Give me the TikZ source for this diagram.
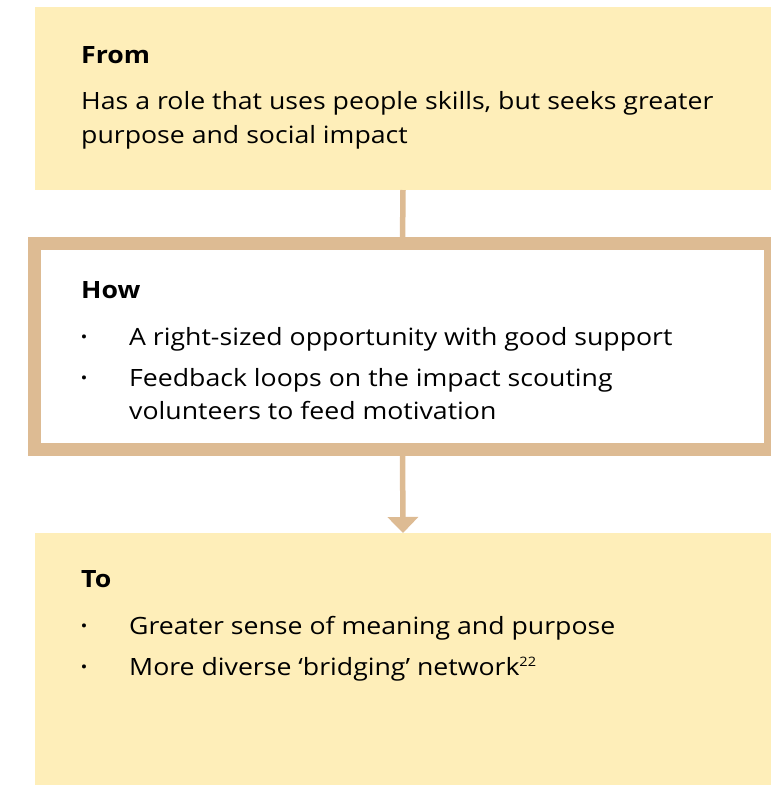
\documentclass[tikz,border=0pt]{standalone}
\usepackage{fontspec}
\setmainfont{Open Sans}[FakeStretch=1.12]
\usetikzlibrary{arrows.meta}
\definecolor{boxyellow}{HTML}{FEEEB9}
\definecolor{tan}{HTML}{DDBB93}
\newcommand{\fsz}{\fontsize{23.8}{28}\selectfont}
\newcommand{\supnum}[1]{\raisebox{8.5pt}{\fontsize{13}{13}\selectfont #1}}
\tikzset{
  panel/.style={fill=boxyellow, draw=none, anchor=north west, inner sep=0pt, outer sep=0pt},
  howpanel/.style={fill=white, draw=tan, line width=13pt, anchor=north west, inner sep=0pt, outer sep=0pt},
  txt/.style={anchor=base west, inner sep=0pt, font=\fsz},
  head/.style={txt, font=\fsz\bfseries},
  bul/.style={anchor=base, inner sep=0pt, font=\fontsize{30}{30}\selectfont},
  conn/.style={draw=tan, line width=5.5pt},
}
\begin{document}
\begin{tikzpicture}[x=1pt,y=-1pt]
\useasboundingbox (0,0) rectangle (771,785);
\clip (0,0) rectangle (771,785);
\node[panel, minimum width=736pt, minimum height=183pt] (from) at (35,7) {};
\node[howpanel, minimum width=736pt, minimum height=206.2pt] (how) at (34.5,243.3) {};
\node[panel, minimum width=736pt, minimum height=252pt] (to) at (35,533) {};
\draw[conn] (from.south) -- (how.north);
\draw[conn, -{Triangle[width=30pt,length=16pt]}] (how.south) -- (to.north);
% From
\node[head] (fromh) at (81,63) {From};
\node[txt] (from1) at (81,109) {Has a role that uses people skills, but seeks greater};
\node[txt] (from2) at (81,143) {purpose and social impact};
% How
\node[head] (howh) at (81,298) {How};
\node[bul] (hb1) at (84,347) {·};
\node[txt] (how1) at (129,345) {A right-sized opportunity with good support};
\node[bul] (hb2) at (84,388) {·};
\node[txt] (how2) at (129,386) {Feedback loops on the impact scouting};
\node[txt] (how3) at (129,419) {volunteers to feed motivation};
% To
\node[head] (toh) at (81,587) {To};
\node[bul] (tb1) at (84,636) {·};
\node[txt] (to1) at (129,634) {Greater sense of meaning and purpose};
\node[bul] (tb2) at (84,677) {·};
\node[txt] (to2) at (129,675) {More diverse ‘bridging’ network\supnum{22}};
\end{tikzpicture}
\end{document}
